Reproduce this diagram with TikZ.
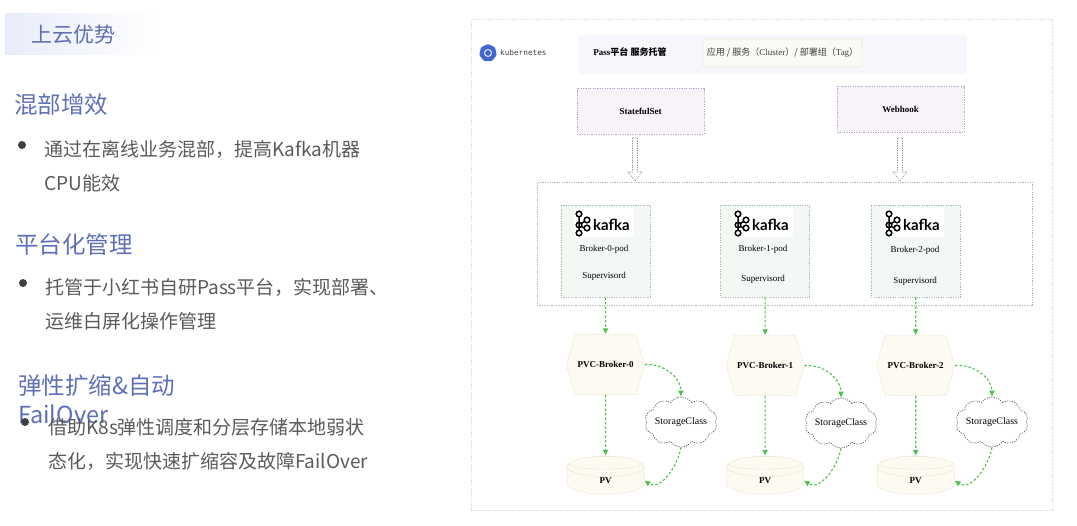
\documentclass[tikz,border=0pt]{standalone}
\usepackage{fontspec}
\setmainfont{Noto Sans CJK SC}
\newfontfamily\boxfont{Liberation Serif}
\newfontfamily\logofont{DejaVu Sans Mono}
\newfontfamily\kafkafont{Lato}
\usepackage{tikz}
\usetikzlibrary{arrows.meta,positioning,shapes.geometric,shapes.symbols,calc}
\definecolor{headblue}{HTML}{5F6FB8}
\definecolor{bodygray}{HTML}{5A5A5A}
\definecolor{flowgreen}{HTML}{4CC04C}
\definecolor{creamfill}{HTML}{FDFAF2}
\definecolor{creamline}{HTML}{E6DCC0}
\definecolor{lilacline}{HTML}{B8A4C8}
\definecolor{lilacfill}{HTML}{F7F3F9}
\definecolor{podline}{HTML}{A4BCA4}
\definecolor{podfill}{HTML}{F4F8F4}
\definecolor{bandfill}{HTML}{F5F7FC}
\definecolor{titlefill}{HTML}{E8ECFA}
\definecolor{k8sblue}{HTML}{3F67D0}
\tikzset{
    thindots/.style={line width=0.6pt, dash pattern=on 1.2pt off 1.2pt},
    heading/.style={text=headblue, anchor=west, inner sep=0pt, align=left, font=\fontsize{23.5}{29}\selectfont},
    bodytext/.style={text=bodygray, anchor=west, inner sep=0pt, align=left, font=\fontsize{19}{34}\selectfont},
    bullet/.style={circle, fill=black!75, inner sep=0pt, minimum size=8pt},
    workload/.style={draw=lilacline, thindots, fill=lilacfill, minimum width=127pt, minimum height=46pt, font=\boxfont\bfseries\fontsize{9}{11}\selectfont},
    podbox/.style={draw=podline, thindots, fill=podfill, minimum width=89pt, minimum height=92pt},
    podtext/.style={inner sep=0pt, font=\boxfont\fontsize{9}{11}\selectfont},
    pvc/.style={signal, signal to=east and west, signal pointer angle=148, draw=creamline, thindots, fill=creamfill, minimum width=78pt, minimum height=60pt, inner sep=0pt, font=\boxfont\bfseries\fontsize{9}{11}\selectfont},
    pv/.style={cylinder, shape border rotate=90, shape aspect=1.7, draw=creamline, thindots, fill=creamfill, minimum width=77pt, minimum height=38pt, inner sep=0pt, font=\boxfont\bfseries\fontsize{9}{11}\selectfont,
        path picture={\draw[creamline, thindots] ($(path picture bounding box.north)+(0,6.5)$) ellipse [x radius=38.5, y radius=6.5];}},
    storage/.style={cloud, cloud puffs=10, cloud puff arc=110, cloud ignores aspect, draw=black!70, thindots, minimum width=66pt, minimum height=50pt, inner sep=0pt, font=\boxfont\fontsize{10}{12}\selectfont},
    flow/.style={-{Latex[length=6pt, width=6pt]}, flowgreen, line width=1.1pt, dash pattern=on 2.5pt off 2pt},
    hollow/.style={draw=black!45, thindots, to path={
        ($(\tikztostart)+(-2.5,0)$) -- ($(\tikztotarget)+(-2.5,-9)$) -- ++(-4.5,0) -- (\tikztotarget)
        -- ++(7,-9) -- ++(-4.5,0) -- ($(\tikztostart)+(2.5,0)$) -- cycle}},
    kafkalogo/.pic={
        \fill[white] (0,0) rectangle (60,29);
        \draw[black, line width=1.5pt] (5,6) circle (2.8pt) (5,17) circle (2.8pt) (5,25) circle (2.8pt) (13,12) circle (2.8pt) (13,20) circle (2.8pt);
        \draw[black, line width=1.5pt] (5,8.8) -- (5,22.2) (7.5,15.5) -- (10.5,13.5) (7.5,18.5) -- (10.5,20);
        \node[anchor=west, inner sep=0pt, font=\kafkafont\bfseries\fontsize{15}{15}\selectfont] (-word) at (19,17) {kafka};
    }
}

\begin{document}
\begin{tikzpicture}[x=1pt, y=-1pt]
\useasboundingbox (0,0) rectangle (1077,526);

% left column
\node[left color=titlefill, right color=white, minimum width=152pt, minimum height=41pt, inner sep=0pt] (titleband) at (81,34.5) {};
\node[text=headblue, inner sep=0pt, font=\fontsize{21}{21}\selectfont] (title) at (73,35) {上云优势};

\node[heading] (headA) at (14,105) {混部增效};
\node[bullet] (dotA) at (22,145) {};
\node[bodytext] (textA) at (44,166) {通过在离线业务混部，提高Kafka机器\\CPU能效};

\node[heading] (headB) at (15,245) {平台化管理};
\node[bullet] (dotB) at (23,283) {};
\node[bodytext] (textB) at (45,304) {托管于小红书自研Pass平台，实现部署、\\运维白屏化操作管理};

\node[heading] (headC) at (18,399) {弹性扩缩\&自动\\FailOver};
\node[bullet] (dotC) at (25,422) {};
\node[bodytext] (textC) at (48,444) {借助K8s弹性调度和分层存储本地弱状\\态化，实现快速扩缩容及故障FailOver};

% frames
\node[draw=black!15, thindots, minimum width=581pt, minimum height=491pt] (frame) at (761.5,264.5) {};
\node[fill=bandfill, rounded corners=3pt, minimum width=389pt, minimum height=39pt] (band) at (772.5,54.5) {};
\node[draw=black!30, thindots, minimum width=495pt, minimum height=123pt] (group) at (784.5,243.5) {};

% top row
\node[regular polygon, regular polygon sides=7, fill=k8sblue, rounded corners=1pt, minimum size=18pt, inner sep=0pt] (k8slogo) at (488,53) {};
\node[circle, draw=white, line width=0.8pt, minimum size=7pt, inner sep=0pt] (k8shelm) at (488,53) {};
\node[anchor=west, inner sep=0pt, text=black!75, font=\logofont\fontsize{7.7}{9}\selectfont] (k8sname) at (500,53) {kubernetes};
\node[inner sep=0pt, font=\fontsize{9}{10}\selectfont\bfseries] (passname) at (630,52) {{\boxfont Pass}平台 服务托管};
\node[draw=creamline, thindots, fill=yellow!40!black!4, rounded corners=3pt, minimum width=159pt, minimum height=28pt, inner sep=0pt, text=black!75, font=\fontsize{9}{10}\selectfont] (hosting) at (782.5,53) {应用 / 服务（{\boxfont Cluster}）/ 部署组（{\boxfont Tag}）};

\node[workload] (sts) at (640.5,111) {StatefulSet};
\node[workload] (webhook) at (900.5,109) {Webhook};
\coordinate (stsout) at (635,138);
\coordinate (stsin) at (635,181);
\coordinate (webout) at (900,138);
\coordinate (webin) at (900,181);
\draw[hollow] (stsout) to (stsin);
\draw[hollow] (webout) to (webin);

% brokers
\node[podbox] (pod0) at (605.5,251) {};
\node[podbox, right=70pt of pod0] (pod1) {};
\node[podbox, right=61pt of pod1] (pod2) {};
\pic (logoA) at (574,208) {kafkalogo};
\pic (logoB) at (733,208) {kafkalogo};
\pic (logoC) at (884,208) {kafkalogo};
\node[podtext] (nameA) at (604,249) {Broker-0-pod};
\node[podtext] (nameB) at (763,249) {Broker-1-pod};
\node[podtext] (nameC) at (915,250) {Broker-2-pod};
\node[podtext] (supA) at (604,276) {Supervisord};
\node[podtext] (supB) at (763,279) {Supervisord};
\node[podtext] (supC) at (915,281) {Supervisord};

% volume claims
\node[pvc, below=37pt of pod0] (pvc0) {PVC-Broker-0};
\node[pvc, below=38pt of pod1] (pvc1) {PVC-Broker-1};
\node[pvc, below=38pt of pod2] (pvc2) {PVC-Broker-2};
\node[pv, below=61pt of pvc0] (pv0) {PV};
\node[pv, below=60pt of pvc1] (pv1) {PV};
\node[pv, below=60pt of pvc2] (pv2) {PV};
\node[storage] (sc0) at (681,422) {StorageClass};
\node[storage] (sc1) at (841,423) {StorageClass};
\node[storage] (sc2) at (992,422) {StorageClass};

\draw[flow] (pod0) -- (pvc0);
\draw[flow] (pod1) -- (pvc1);
\draw[flow] (pod2) -- (pvc2);
\draw[flow] (pvc0) -- (pv0);
\draw[flow] (pvc1) -- (pv1);
\draw[flow] (pvc2) -- (pv2);
\draw[flow] (pvc0.east) to[out=5, in=90] (sc0.north);
\draw[flow] (pvc1.east) to[out=5, in=90] (sc1.north);
\draw[flow] (pvc2.east) to[out=5, in=90] (sc2.north);
\draw[flow] (sc0.south) to[out=-100, in=-35] (pv0.east);
\draw[flow] (sc1.south) to[out=-100, in=-35] (pv1.east);
\draw[flow] (sc2.south) to[out=-100, in=-35] (pv2.east);
\end{tikzpicture}
\end{document}
